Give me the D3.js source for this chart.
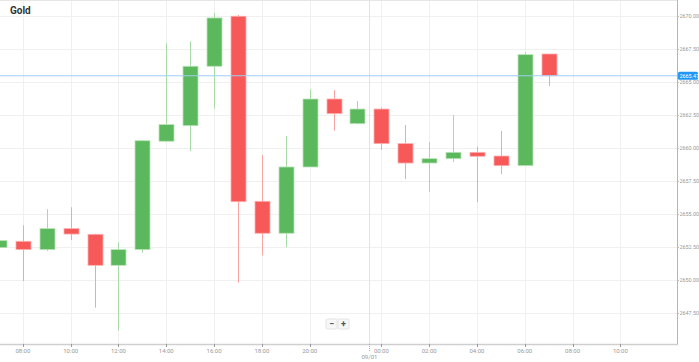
<!DOCTYPE html>
<html><head>
<meta charset="utf-8">
<script src="https://d3js.org/d3.v7.min.js"></script>
<style>
  body { margin: 0; background: #fff; font-family: Roboto, "Open Sans", sans-serif; }
  .grid line { stroke: #f0f0f0; stroke-width: 1px; }
  .tick-label { fill: #999; font-size: 6px; }
  .yl { font-size: 5.4px; }
</style>
</head>
<body>
<svg id="chart" width="699" height="362"></svg>
<script>
// hourly bars, day break between 22:00 and 00:00
const hours = ["07:00","08:00","09:00","10:00","11:00","12:00","13:00","14:00","15:00","16:00",
  "17:00","18:00","19:00","20:00","21:00","22:00","00:00","01:00","02:00","03:00","04:00",
  "05:00","06:00","07:00","08:00","09:00","10:00","11:00"];
const open  = [2652.45,2652.93,2652.30,2653.89,2653.46,2651.11,2652.30,2660.51,2661.69,2666.19,
  2669.98,2655.96,2653.54,2658.56,2663.71,2661.84,2662.95,2660.33,2658.86,2659.19,2659.67,
  2659.39,2658.66,2667.12];
const close = [2652.98,2652.30,2653.89,2653.48,2651.11,2652.30,2660.55,2661.77,2666.19,2669.85,
  2655.93,2653.54,2658.56,2663.71,2662.60,2662.95,2660.33,2658.86,2659.19,2659.67,2659.37,
  2658.66,2667.07,2665.47];
const high  = [2653.05,2654.14,2655.36,2655.51,2653.50,2652.83,2660.61,2667.93,2668.08,2670.23,
  2670.08,2659.47,2660.91,2664.45,2664.39,2663.56,2663.08,2661.74,2660.45,2662.50,2660.10,
  2661.29,2667.25,2667.12];
const low   = [2652.40,2649.92,2652.20,2653.03,2647.90,2646.16,2652.07,2660.50,2659.77,2662.98,
  2649.80,2651.87,2652.48,2658.56,2661.31,2661.80,2659.85,2657.65,2656.67,2658.92,2655.89,
  2658.01,2658.66,2664.70];
const priceTicks = [2647.5,2650,2652.5,2655,2657.5,2660,2662.5,2665,2667.5,2670];
const dayBreak = 15.5, dayLabel = "09/01";
const lastPrice = 2665.47;

const svg = d3.select("#chart");
const plotW = 677, plotH = 344;

const x = d3.scaleLinear().domain([0.042, 28.37]).range([0, plotW]);
const y = d3.scaleLinear().domain([2645.15, 2671.21]).range([plotH, 0]);

const bars = open.map((o, i) => ({ i, o, c: close[i], h: high[i], l: low[i], up: close[i] >= o }));
// even hours, skipping the one crowded just before the day break
const xTicks = hours.map((h, i) => ({ h, i }))
  .filter(d => +d.h.slice(0, 2) % 2 === 0 && !(d.i < dayBreak && d.i > dayBreak - 1));

// grid
const grid = svg.append("g").attr("class", "grid");
grid.selectAll("line.h").data(priceTicks).join("line").attr("class", "h")
  .attr("x1", 0).attr("x2", plotW).attr("y1", d => y(d) + 0.5).attr("y2", d => y(d) + 0.5);
grid.selectAll("line.v").data(xTicks).join("line").attr("class", "v")
  .attr("x1", d => Math.round(x(d.i)) + 0.5).attr("x2", d => Math.round(x(d.i)) + 0.5)
  .attr("y1", 0).attr("y2", plotH);
svg.append("line").attr("x1", 0).attr("x2", plotW).attr("y1", 0.5).attr("y2", 0.5)
  .attr("stroke", "#e6e6e6");
svg.append("line").attr("x1", Math.round(x(dayBreak)) + 0.5).attr("x2", Math.round(x(dayBreak)) + 0.5)
  .attr("y1", 0).attr("y2", plotH).attr("stroke", "#e2e2e2");

// candles
const bw = 15;
const cg = svg.append("g");
cg.selectAll("line.wick").data(bars).join("line").attr("class", "wick")
  .attr("x1", d => Math.round(x(d.i)) + 0.5).attr("x2", d => Math.round(x(d.i)) + 0.5)
  .attr("y1", d => y(d.h)).attr("y2", d => y(d.l))
  .attr("stroke", d => d.up ? "#a6dba6" : "#f9a3a3").attr("stroke-width", 1);
cg.selectAll("rect").data(bars).join("rect")
  .attr("x", d => Math.round(x(d.i)) - (bw - 1) / 2)
  .attr("y", d => y(Math.max(d.o, d.c)))
  .attr("width", bw)
  .attr("height", d => Math.max(1, Math.abs(y(d.o) - y(d.c))))
  .attr("fill", d => d.up ? "#5cb85c" : "#f75858")
  .attr("stroke", d => d.up ? "#b9e3b9" : "#fbb0b0").attr("stroke-width", 0.8);

// last price line
svg.append("line").attr("x1", 0).attr("x2", plotW)
  .attr("y1", y(lastPrice)).attr("y2", y(lastPrice))
  .attr("stroke", "#9fcff5").attr("stroke-width", 1);

// axes lines
svg.append("line").attr("x1", plotW + 0.5).attr("x2", plotW + 0.5).attr("y1", 0).attr("y2", plotH + 1)
  .attr("stroke", "#b5b5b5").attr("stroke-width", 1);
svg.append("line").attr("x1", 0).attr("x2", plotW + 1).attr("y1", plotH + 0.5).attr("y2", plotH + 0.5)
  .attr("stroke", "#cfcfcf").attr("stroke-width", 1.5);

// y labels
svg.selectAll("text.yl").data(priceTicks).join("text").attr("class", "tick-label yl")
  .attr("x", plotW + 2.5).attr("y", d => y(d) + 2)
  .text(d => d.toFixed(2));
svg.selectAll("line.yt").data(priceTicks).join("line").attr("class", "yt")
  .attr("x1", plotW).attr("x2", plotW + 2).attr("y1", d => y(d) + 0.5).attr("y2", d => y(d) + 0.5)
  .attr("stroke", "#bbb");

// x labels
svg.selectAll("line.xt").data(xTicks).join("line").attr("class", "xt")
  .attr("x1", d => Math.round(x(d.i)) + 0.5).attr("x2", d => Math.round(x(d.i)) + 0.5)
  .attr("y1", plotH).attr("y2", plotH + 3).attr("stroke", "#999");
svg.selectAll("text.xl").data(xTicks).join("text").attr("class", "tick-label xl")
  .attr("x", d => x(d.i)).attr("y", plotH + 9).attr("text-anchor", "middle")
  .text(d => d.h);
svg.append("line").attr("x1", Math.round(x(dayBreak)) + 0.5).attr("x2", Math.round(x(dayBreak)) + 0.5)
  .attr("y1", plotH).attr("y2", plotH + 7).attr("stroke", "#aaa").attr("stroke-dasharray", "1,1");
svg.append("text").attr("class", "tick-label").attr("x", x(dayBreak)).attr("y", plotH + 15)
  .attr("text-anchor", "middle").text(dayLabel);

// last price badge
const by = y(lastPrice);
svg.append("rect").attr("x", plotW + 1).attr("y", by - 4).attr("width", 20).attr("height", 8)
  .attr("rx", 1.5).attr("fill", "#2196f3");
svg.append("text").attr("x", plotW + 2.5).attr("y", by + 2).attr("fill", "#fff")
  .attr("font-size", "5.4px").text(lastPrice.toFixed(2));

// title
svg.append("text").attr("x", 10).attr("y", 14).attr("font-size", "10px").attr("font-weight", "bold")
  .attr("fill", "#333").text("Gold");

// zoom buttons
const zb = svg.append("g").attr("transform", "translate(326,319)");
["−", "+"].forEach((s, k) => {
  zb.append("rect").attr("x", k * 12).attr("y", 0).attr("width", 11).attr("height", 10)
    .attr("fill", "#f7f7f7").attr("stroke", "#e4e4e4").attr("rx", 1);
  zb.append("text").attr("x", k * 12 + 5.5).attr("y", 8).attr("text-anchor", "middle")
    .attr("font-size", "9px").attr("font-weight", "bold").attr("fill", "#555").text(s);
});
</script>
</body>
</html>
